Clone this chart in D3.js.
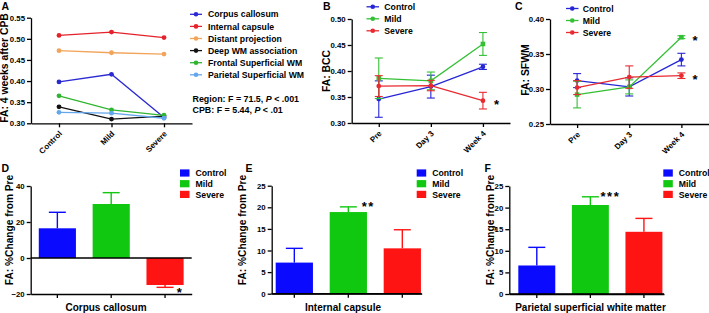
<!DOCTYPE html>
<html><head><meta charset="utf-8">
<script src="https://cdn.jsdelivr.net/npm/d3@7"></script>
<style>
body{margin:0;background:#fff}
svg{display:block}
text{font-family:"Liberation Sans",Arial,sans-serif;font-weight:bold;fill:#000}
</style>
</head><body>
<svg id="chart" width="709" height="313"></svg>
<script>
// ---------------- DATA ----------------
const groups = ["Control", "Mild", "Severe"];
const timepoints = ["Pre", "Day 3", "Week 4"];

// Panel A: FA 4 weeks after CPB, per region
const regionNames = ["Corpus callosum", "Internal capsule", "Distant projection",
  "Deep WM association", "Frontal Superficial WM", "Parietal Superficial WM"];
const faCorpusCallosum = [0.398, 0.416, 0.314];
const faInternalCapsule = [0.508, 0.516, 0.503];
const faDistantProjection = [0.472, 0.467, 0.464];
const faDeepWM = [0.339, 0.310, 0.317];
const faFrontalSWM = [0.365, 0.332, 0.319];
const faParietalSWM = [0.326, 0.324, 0.312];
const yTicksA = [0.30, 0.35, 0.40, 0.45, 0.50, 0.55];
const statsA = [["Region: F = 71.5, ", "P", " < .001"], ["CPB: F = 5.44, ", "P", " < .01"]];

// Panel B: FA BCC over time
const bccControl = [0.346, 0.370, 0.408];
const bccControlSE = [0.035, 0.022, 0.005];
const bccMild = [0.386, 0.381, 0.452];
const bccMildSE = [0.039, 0.017, 0.022];
const bccSevere = [0.371, 0.372, 0.343];
const bccSevereSE = [0.020, 0.010, 0.016];
const bccSig = ["", "", "*"];          // significance per group at Week 4
const yTicksB = [0.30, 0.35, 0.40, 0.45, 0.50];

// Panel C: FA SFWM over time
const sfwmControl = [0.312, 0.303, 0.342];
const sfwmControlSE = [0.010, 0.013, 0.009];
const sfwmMild = [0.292, 0.303, 0.374];
const sfwmMildSE = [0.019, 0.010, 0.002];
const sfwmSevere = [0.302, 0.317, 0.319];
const sfwmSevereSE = [0.010, 0.016, 0.004];
const sfwmSig = ["", "*", "*"];
const yTicksC = [0.25, 0.30, 0.35, 0.40];

// Panels D-F: % change from Pre
const pctCorpusCallosum = [16.5, 30.0, -15.0];
const pctCorpusCallosumSE = [8.9, 6.3, 1.3];
const pctInternalCapsule = [7.2, 18.9, 10.5];
const pctInternalCapsuleSE = [3.3, 1.2, 4.3];
const pctParietalSWM = [6.6, 20.6, 14.4];
const pctParietalSWMSE = [4.2, 1.9, 3.1];
const sigD = ["", "", "*"];
const sigE = ["", "**", ""];
const sigF = ["", "***", ""];
const yTicksD = [-20, 0, 20, 40];
const yTicksEF = [0, 5, 10, 15, 20, 25];

// ---------------- STYLE ----------------
const FONT = '"Liberation Sans", Arial, sans-serif';
const regionColors = ["#2a2ad2", "#e4222c", "#f2a45a", "#111111", "#30b530", "#62a6ec"];
const lineColors = ["#2626d6", "#34c034", "#e82a30"];
const barColors = ["#0a0aff", "#10c810", "#ff1414"];

const svg = d3.select("#chart");

function styleAxis(g, fs) {
  g.attr("font-family", FONT).attr("font-size", fs || 8).attr("font-weight", "bold");
  g.selectAll("path,line").attr("stroke", "#000").attr("stroke-width", 1.3);
  g.selectAll("text").attr("fill", "#000");
}
function panelLabel(t, x, y) {
  svg.append("text").attr("x", x).attr("y", y).attr("font-size", 10.5).text(t);
}
function yTitle(t, x, y, fs) {
  svg.append("text").attr("transform", `translate(${x},${y}) rotate(-90)`)
    .attr("text-anchor", "middle").attr("font-size", fs || 10.4).text(t);
}
function marker(g, shape, cx, cy, color, s) {
  if (shape === "square") {
    g.append("rect").attr("x", cx - s).attr("y", cy - s).attr("width", 2 * s).attr("height", 2 * s).attr("fill", color);
  } else {
    g.append("circle").attr("cx", cx).attr("cy", cy).attr("r", s).attr("fill", color);
  }
}

// ---------------- LINE PANELS ----------------
function linePanel(o) {
  const x = d3.scalePoint().domain(o.cats).range(o.xr).padding(o.pad);
  const y = d3.scaleLinear().domain(o.yd).range(o.yr);
  const gy = svg.append("g").attr("transform", `translate(${o.xr[0]},0)`)
    .call(d3.axisLeft(y).tickValues(o.ticks).tickFormat(d3.format(".2f")).tickSize(4).tickSizeOuter(0).tickPadding(2));
  styleAxis(gy, 7.8);
  const gx = svg.append("g").attr("transform", `translate(0,${o.yr[0]})`)
    .call(d3.axisBottom(x).tickSize(4).tickSizeOuter(0));
  styleAxis(gx, 8);
  gx.selectAll(".tick text").attr("y", 0).attr("dy", "0.35em").attr("text-anchor", "end")
    .attr("transform", "translate(1,9) rotate(-45)");

  const line = d3.line().x((d, i) => x(o.cats[i])).y(d => y(d));
  o.series.forEach((s, k) => {
    const g = svg.append("g");
    if (s.se) {
      s.values.forEach((v, i) => {
        const cx = x(o.cats[i]);
        const y1 = y(v - s.se[i]), y2 = y(v + s.se[i]);
        g.append("line").attr("x1", cx).attr("x2", cx).attr("y1", y1).attr("y2", y2).attr("stroke", s.color).attr("stroke-width", 1.1);
        [y1, y2].forEach(yy => g.append("line").attr("x1", cx - 4).attr("x2", cx + 4).attr("y1", yy).attr("y2", yy).attr("stroke", s.color).attr("stroke-width", 1.1));
      });
    }
    g.append("path").datum(s.values).attr("d", line).attr("fill", "none").attr("stroke", s.color).attr("stroke-width", 1.3);
    s.values.forEach((v, i) => marker(g, s.shape, x(o.cats[i]), y(v), s.color, s.shape === "square" ? 2.3 : 2.4));
    if (s.sig) {
      s.sig.forEach((t, i) => {
        if (!t) return;
        svg.append("text").attr("x", x(o.cats[i]) + 11).attr("y", y(s.values[i]) + 8)
          .attr("font-size", 13).attr("font-weight", "normal").text(t);
      });
    }
  });
  // legend
  const lg = svg.append("g");
  o.series.forEach((s, k) => {
    const yy = o.leg.y + k * o.leg.dy;
    lg.append("line").attr("x1", o.leg.x).attr("x2", o.leg.x + o.leg.w).attr("y1", yy).attr("y2", yy)
      .attr("stroke", s.color).attr("stroke-width", 1.3);
    marker(lg, "circle", o.leg.x + o.leg.w / 2, yy, s.color, 2.3);
    lg.append("text").attr("x", o.leg.tx).attr("y", yy + 3.1).attr("font-size", 8.7).text(s.name);
  });
  return { x, y };
}

// Panel A
const seriesA = [faCorpusCallosum, faInternalCapsule, faDistantProjection, faDeepWM, faFrontalSWM, faParietalSWM]
  .map((v, k) => ({ name: regionNames[k], values: v, color: regionColors[k], shape: "circle" }));
linePanel({ cats: groups, xr: [31, 192], pad: 0.533, yd: [0.30, 0.55], yr: [123.3, 17.7], ticks: yTicksA,
  series: seriesA, leg: { x: 190, w: 12, tx: 208, y: 14.3, dy: 12.1 } });
panelLabel("A", 1.5, 9.5);
yTitle("FA: 4 weeks after CPB", 8, 68);
statsA.forEach((parts, i) => {
  const t = svg.append("text").attr("x", 192.5).attr("y", 102 + i * 11).attr("font-size", 8.9);
  t.append("tspan").text(parts[0]);
  t.append("tspan").attr("font-style", "italic").text(parts[1]);
  t.append("tspan").text(parts[2]);
});

// Panel B
const seriesB = [
  { name: groups[0], values: bccControl, se: bccControlSE, color: lineColors[0], shape: "circle" },
  { name: groups[1], values: bccMild, se: bccMildSE, color: lineColors[1], shape: "square" },
  { name: groups[2], values: bccSevere, se: bccSevereSE, color: lineColors[2], shape: "circle",
    sig: [null, null, bccSig[2]] }
];
linePanel({ cats: timepoints, xr: [351.7, 510], pad: 0.52, yd: [0.30, 0.50], yr: [123, 19], ticks: yTicksB,
  series: seriesB, leg: { x: 366.5, w: 12.5, tx: 384.3, y: 6.8, dy: 12 } });
panelLabel("B", 323, 9.5);
yTitle("FA: BCC", 330, 71);

// Panel C
const seriesC = [
  { name: groups[0], values: sfwmControl, se: sfwmControlSE, color: lineColors[0], shape: "circle" },
  { name: groups[1], values: sfwmMild, se: sfwmMildSE, color: lineColors[1], shape: "square",
    sig: [null, null, sfwmSig[1]] },
  { name: groups[2], values: sfwmSevere, se: sfwmSevereSE, color: lineColors[2], shape: "circle",
    sig: [null, null, sfwmSig[2]] }
];
linePanel({ cats: timepoints, xr: [550, 708.5], pad: 0.52, yd: [0.25, 0.40], yr: [124, 19], ticks: yTicksC,
  series: seriesC, leg: { x: 566, w: 12.5, tx: 582.7, y: 8.5, dy: 12 } });
panelLabel("C", 515, 10);
yTitle("FA: SFWM", 528.5, 70);

// ---------------- BAR PANELS ----------------
function barPanel(o) {
  const x = d3.scaleBand().domain(groups).range(o.xr).paddingInner(0.31).paddingOuter(o.po).align(o.align);
  const y = d3.scaleLinear().domain(o.yd).range(o.yr);
  const g = svg.append("g");
  // bars + error bars
  o.values.forEach((v, i) => {
    const x0 = x(groups[i]), w = x.bandwidth(), cx = x0 + w / 2;
    g.append("rect").attr("x", x0).attr("width", w)
      .attr("y", Math.min(y(v), y(0))).attr("height", Math.abs(y(v) - y(0))).attr("fill", barColors[i]);
    const e = v >= 0 ? v + o.se[i] : v - o.se[i];
    g.append("line").attr("x1", cx).attr("x2", cx).attr("y1", y(v)).attr("y2", y(e)).attr("stroke", barColors[i]).attr("stroke-width", 1.4);
    g.append("line").attr("x1", cx - 8.5).attr("x2", cx + 8.5).attr("y1", y(e)).attr("y2", y(e)).attr("stroke", barColors[i]).attr("stroke-width", 1.4);
    if (o.sig[i]) {
      const t = svg.append("text").attr("font-size", 13).attr("font-weight", "normal").attr("letter-spacing", 1.5);
      if (v >= 0) t.attr("x", cx + 20).attr("y", y(e) + 4.5).attr("text-anchor", "middle").text(o.sig[i]);
      else t.attr("x", cx + 15).attr("y", y(e) + 10).attr("text-anchor", "middle").text(o.sig[i]);
    }
  });
  const gy = svg.append("g").attr("transform", `translate(${o.xr[0]},0)`)
    .call(d3.axisLeft(y).tickValues(o.ticks).tickSize(4).tickSizeOuter(0).tickPadding(2));
  styleAxis(gy, 7.8);
  // zero line
  svg.append("line").attr("x1", o.xr[0]).attr("x2", o.xr[1]).attr("y1", y(0)).attr("y2", y(0))
    .attr("stroke", "#000").attr("stroke-width", 1.4);
  // bottom axis with category ticks
  const gx = svg.append("g").attr("transform", `translate(0,${o.yr[0]})`)
    .call(d3.axisBottom(x).tickSize(4).tickSizeOuter(0).tickFormat(""));
  styleAxis(gx, 8);
  svg.append("text").attr("x", o.titleX).attr("y", 310.5).attr("text-anchor", "middle").attr("font-size", 10).text(o.title);
  // legend
  groups.forEach((gname, k) => {
    const yy = 173 + k * 10.7;
    svg.append("rect").attr("x", o.leg).attr("y", yy - 3.6).attr("width", 9.5).attr("height", 7.2).attr("fill", barColors[k]);
    svg.append("text").attr("x", o.leg + 15.5).attr("y", yy + 3.1).attr("font-size", 8.7).text(gname);
  });
}

barPanel({ values: pctCorpusCallosum, se: pctCorpusCallosumSE, sig: sigD, xr: [30.7, 191.7], po: 0.15, align: 0.5,
  yd: [-20, 40], yr: [294, 186], ticks: yTicksD, title: "Corpus callosum", titleX: 106, leg: 180 });
panelLabel("D", 1.5, 172);
yTitle("FA: %Change from Pre", 12.5, 230, 10.2);

barPanel({ values: pctInternalCapsule, se: pctInternalCapsuleSE, sig: sigE, xr: [271.7, 421.7], po: 0.044, align: 0.84,
  yd: [0, 25], yr: [293.7, 185.7], ticks: yTicksEF, title: "Internal capsule", titleX: 343, leg: 416.7 });
panelLabel("E", 245.5, 172);
yTitle("FA: %Change from Pre", 246, 230, 10.2);

barPanel({ values: pctParietalSWM, se: pctParietalSWMSE, sig: sigF, xr: [509.3, 664], po: 0.099, align: 0.85,
  yd: [0, 25], yr: [294, 186], ticks: yTicksEF, title: "Parietal superficial white matter", titleX: 590.5, leg: 663.3 });
panelLabel("F", 484.5, 172);
yTitle("FA: %Change from Pre", 493.5, 230, 10.2);
</script>
</body></html>
